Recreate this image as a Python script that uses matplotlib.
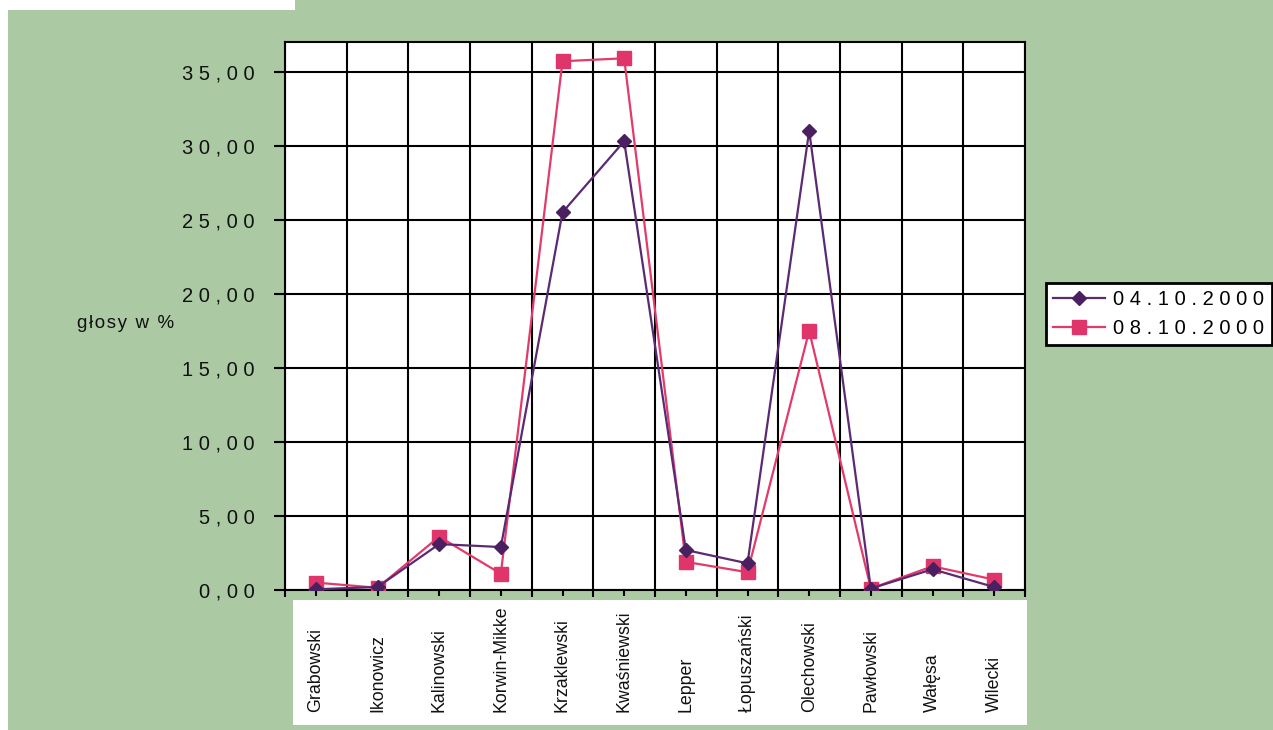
import matplotlib
matplotlib.use('Agg')
import matplotlib.pyplot as plt
from matplotlib.patches import Rectangle

candidates = ['Grabowski', 'Ikonowicz', 'Kalinowski', 'Korwin-Mikke', 'Krzaklewski',
              'Kwaśniewski', 'Lepper', 'Łopuszański', 'Olechowski', 'Pawłowski',
              'Wałęsa', 'Wilecki']
votes_0410 = [0.05, 0.2, 3.1, 2.9, 25.5, 30.3, 2.7, 1.8, 31.0, 0.1, 1.4, 0.2]
votes_0810 = [0.5, 0.15, 3.6, 1.1, 35.7, 35.9, 1.9, 1.2, 17.5, 0.1, 1.6, 0.7]
yticks = [0, 5, 10, 15, 20, 25, 30, 35]
dates = ['04.10.2000', '08.10.2000']

W, H = 1273, 730
bg = '#abc9a3'
fam = ['Liberation Sans', 'DejaVu Sans']
narrow = ['Liberation Sans Narrow', 'Liberation Sans', 'DejaVu Sans']

def spaced(s, sep=' '):
    return sep.join(s)

fig = plt.figure(figsize=(W / 100, H / 100), dpi=100, facecolor=bg)
# white scan margins
fig.patches.append(Rectangle((0, 1 - 10 / H), 295 / W, 10 / H, transform=fig.transFigure,
                             facecolor='white', edgecolor='none', zorder=-1))
fig.patches.append(Rectangle((0, 0), 8 / W, 1, transform=fig.transFigure,
                             facecolor='white', edgecolor='none', zorder=-1))
# white box behind the category labels
fig.patches.append(Rectangle((293 / W, 1 - 725 / H), (1027 - 293) / W, 125 / H,
                             transform=fig.transFigure, facecolor='white',
                             edgecolor='none', zorder=-1))

ax = fig.add_axes([285 / W, 1 - 590 / H, (1025 - 285) / W, (590 - 42) / H])
ax.set_facecolor('white')

x = list(range(len(candidates)))
ax.plot(x, votes_0410, color='#5b2a72', lw=1.6, marker='D', ms=7,
        markerfacecolor='#4a2060', markeredgecolor='#4a2060', label=spaced(dates[0]), zorder=4)
ax.plot(x, votes_0810, color='#e33a6c', lw=1.6, marker='s', ms=10,
        markerfacecolor='#e0356a', markeredgecolor='#e0356a', label=spaced(dates[1]), zorder=3)

ax.set_xlim(-0.5, len(candidates) - 0.5)
ax.set_ylim(0, 37.0)
ax.set_yticks(yticks)
ax.set_yticklabels([spaced(('%.2f' % v).replace('.', ',')) for v in yticks],
                   fontfamily=fam, fontsize=14.5, color='#111111')
ax.set_xticks(x)
ax.set_xticks([i - 0.5 for i in range(len(candidates) + 1)], minor=True)
ax.set_xticklabels(candidates, fontfamily=narrow, fontsize=12.8, color='#111111')
plt.setp(ax.get_xticklabels(), rotation=90, va='bottom', ha='center')
ax.tick_params(axis='x', which='major', direction='out', length=4, width=1.5, pad=84)
ax.tick_params(axis='x', which='minor', direction='out', length=5, width=1.5)
ax.tick_params(axis='y', direction='out', length=8, width=1.5, pad=14)

ax.grid(True, axis='y', color='black', lw=1.5)
ax.grid(True, axis='x', which='minor', color='black', lw=1.5)
ax.set_axisbelow(True)
for sp in ax.spines.values():
    sp.set_linewidth(1.5)
    sp.set_color('black')

fig.text(126 / W, 1 - 323 / H, spaced('głosy w %', '\u200a'), fontfamily=fam, fontsize=13.5,
         ha='center', va='center', color='#111111')

leg = fig.legend(loc='upper left', bbox_to_anchor=(1046 / W, 1 - 283 / H),
                 prop={'family': fam, 'size': 14.5}, frameon=True, fancybox=False,
                 handlelength=2.6, handletextpad=0.4, borderpad=0.35, labelspacing=0.5,
                 borderaxespad=0)
leg.get_frame().set_edgecolor('black')
leg.get_frame().set_linewidth(2)
leg.get_frame().set_facecolor('white')
leg.get_frame().set_alpha(1)

fig.savefig('out.png', dpi=100, facecolor=bg)
